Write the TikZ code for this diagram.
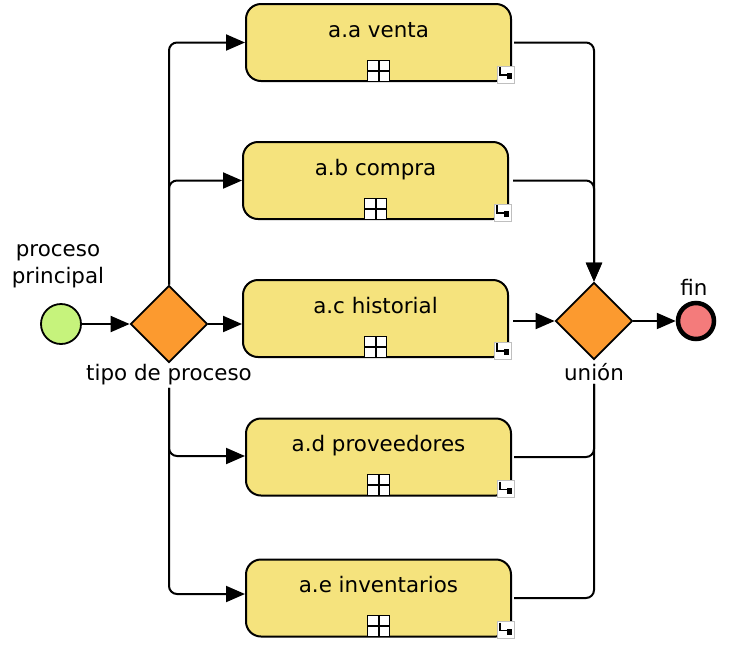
\documentclass[tikz,border=0pt]{standalone}
\usepackage{fontspec}
\setmainfont{DejaVu Sans}
\usepackage{tikz}
\usetikzlibrary{shapes}
\usetikzlibrary{arrows.meta}
\usetikzlibrary{positioning}
\definecolor{taskyellow}{HTML}{F5E37D}
\definecolor{gateorange}{HTML}{FC9A2F}
\definecolor{startgreen}{HTML}{C6F37C}
\definecolor{endred}{HTML}{F47B7B}
\begin{document}
\begin{tikzpicture}[
            x=1pt, y=-1pt,
            font=\fontsize{21.4}{27}\selectfont,
            task/.style={rectangle, rounded corners=15pt, draw, line width=2pt, fill=taskyellow, minimum width=265pt, inner ysep=0pt, text height=33pt, text depth=44pt},
            gateway/.style={diamond, draw, line width=1.8pt, fill=gateorange, minimum width=77pt, minimum height=77pt, inner sep=0pt},
            startev/.style={circle, draw, line width=1.8pt, fill=startgreen, minimum size=40pt, inner sep=0pt},
            endev/.style={circle, draw, line width=4.5pt, fill=endred, minimum size=36pt, inner sep=0pt},
            flow/.style={line width=2pt, rounded corners=8pt},
            arr/.style={-{Triangle[length=19pt,width=16pt]}}
        ]
        \useasboundingbox (0,0) rectangle (738,657);

        \node[startev] (inicio) at (61,324) {};
        \node[anchor=base, align=center] (lblinicio) at (58,283) {proceso\\principal};

        \node[gateway] (tipo) at (169,324) {};
        \node[anchor=base] (lbltipo) at (169,380) {tipo de proceso};

        % Subprocesses
        \node[task] (venta) at (378.5,42.5) {a.a venta};
        \node[task] (compra) at (375.5,180.5) {a.b compra};
        \node[task] (historial) at (375.5,318.5) {a.c historial};
        \node[task] (proveedores) at (378.5,457) {a.d proveedores};
        \node[task] (inventarios) at (378.5,598) {a.e inventarios};

        \node[gateway] (union) at (594,321) {};
        \node[anchor=base] (lblunion) at (594,380) {unión};

        \node[endev] (fin) at (696,321) {};
        \node[anchor=base] (lblfin) at (694,295) {fin};

        % Markers of the collapsed subprocesses
        \foreach \t in {venta,compra,historial,proveedores,inventarios} {
            \draw[fill=white, line width=1pt] ([xshift=-11pt,yshift=1pt]\t.south) rectangle ([xshift=11pt,yshift=22pt]\t.south);
            \draw[line width=2pt] ([yshift=1pt]\t.south) -- ([yshift=22pt]\t.south);
            \draw[line width=2pt] ([xshift=-11pt,yshift=11.5pt]\t.south) -- ([xshift=11pt,yshift=11.5pt]\t.south);
            \draw[fill=white, draw=gray!50, line width=0.8pt] ([xshift=-15pt,yshift=-1pt]\t.south east) rectangle ([xshift=2pt,yshift=16pt]\t.south east);
            \draw[line width=1.6pt] ([xshift=-12pt,yshift=15pt]\t.south east) -- ([xshift=-12pt,yshift=7pt]\t.south east) -- ([xshift=-4pt,yshift=7pt]\t.south east);
            \fill ([xshift=-5pt,yshift=3pt]\t.south east) rectangle ([xshift=0pt,yshift=9pt]\t.south east);
        }

        % Split
        \draw[flow, arr] (inicio) -- (tipo.west);
        \draw[flow, arr] (tipo.north) |- (venta.west);
        \draw[flow, arr] (tipo.north) |- (compra.west);
        \draw[flow, arr] (tipo.east) -- (tipo.east -| historial.west);
        \draw[flow, arr] (lbltipo.south) |- ([yshift=1pt]proveedores.west);
        \draw[flow, arr] (lbltipo.south) |- ([yshift=4pt]inventarios.west);

        % Join
        \draw[flow, arr, shorten <=2pt] (venta.east) -| (union.north);
        \draw[flow, arr, shorten <=4pt] (compra.east) -| (union.north);
        \draw[flow, arr, shorten <=4pt] (historial.east |- union.west) -- (union.west);
        \draw[flow, shorten <=2pt] (proveedores.east) -| (lblunion.south);
        \draw[flow, shorten <=2pt] (inventarios.east) -| (lblunion.south);
        \draw[flow, arr] (union.east) -- (fin.west);

    \end{tikzpicture}
\end{document}
